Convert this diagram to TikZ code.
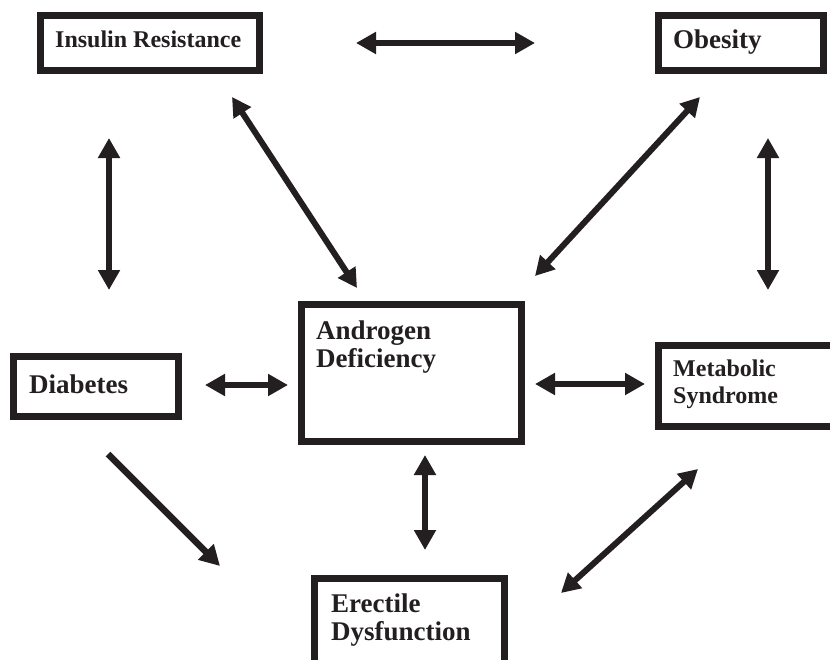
\documentclass[tikz,border=0pt]{standalone}
\usepackage{fontspec}
\setmainfont{Liberation Serif}
\usetikzlibrary{arrows.meta}
\definecolor{ink}{HTML}{231F20}
\begin{document}
\begin{tikzpicture}[x=1pt,y=-1pt,
  box/.style={draw=ink,line width=7pt,fill=white,inner sep=0pt},
  lbl/.style={text=ink,inner sep=0pt,anchor=base west,align=left,font=\bfseries\fontsize{27}{28}\selectfont},
  lblsm/.style={lbl,font=\bfseries\fontsize{24}{27}\selectfont},
  dbl/.style={draw=ink,line width=6pt,{Triangle[length=20pt,width=21pt]}-{Triangle[length=20pt,width=21pt]}},
  dbld/.style={draw=ink,line width=6pt,{Triangle[length=19pt,width=20pt]}-{Triangle[length=19pt,width=20pt]}},
  sgl/.style={draw=ink,line width=6.5pt,-{Triangle[length=20pt,width=21pt]}}]
\useasboundingbox (0,0) rectangle (830,659);
\clip (0,0) rectangle (830,659);
\fill[white] (0,0) rectangle (830,659);
% boxes
\node[box,minimum width=219pt,minimum height=55pt] (ir) at (150,43) {};
\node[box,minimum width=165pt,minimum height=55pt] (ob) at (741,43) {};
\node[box,minimum width=220pt,minimum height=137pt] (ad) at (411.5,373) {};
\node[box,minimum width=176.5pt,minimum height=81pt] (ms) at (746.75,386) {};
\node[box,minimum width=165pt,minimum height=60pt] (db) at (96,386.5) {};
\node[box,minimum width=190pt,minimum height=86.5pt] (ed) at (409.5,621.75) {};
% labels
\node[lblsm] (irt) at (55,47) {Insulin Resistance};
\node[lbl] (obt) at (673,48) {Obesity};
\node[lbl] (dbt) at (29,393) {Diabetes};
\node[lbl,anchor=north west] (adt) at (316,321) {Androgen\\Deficiency};
\node[lblsm,anchor=north west] (mst) at (673,360) {Metabolic\\Syndrome};
\node[lbl,anchor=north west] (edt) at (331,594) {Erectile\\Dysfunction};
% arrow end points
\coordinate (a1) at (356,43);  \coordinate (b1) at (535,43);
\coordinate (a2) at (109,138); \coordinate (b2) at (109,290);
\coordinate (a3) at (768,138); \coordinate (b3) at (768,290);
\coordinate (a4) at (232,97);  \coordinate (b4) at (357,288);
\coordinate (a5) at (700,97);  \coordinate (b5) at (535,276);
\coordinate (a6) at (205,385); \coordinate (b6) at (288,385);
\coordinate (a7) at (535,384); \coordinate (b7) at (645,384);
\coordinate (a8) at (425,455); \coordinate (b8) at (425,550);
\coordinate (a9) at (108,454); \coordinate (b9) at (220,566);
\coordinate (a10) at (698,469); \coordinate (b10) at (561,593);
% connectors
\draw[dbl] (a1) -- (b1);
\draw[dbl] (a2) -- (b2);
\draw[dbl] (a3) -- (b3);
\draw[dbld] (a4) -- (b4);
\draw[dbld] (a5) -- (b5);
\draw[dbl] (a6) -- (b6);
\draw[dbl] (a7) -- (b7);
\draw[dbl] (a8) -- (b8);
\draw[sgl] (a9) -- (b9);
\draw[dbld] (a10) -- (b10);
\end{tikzpicture}
\end{document}
